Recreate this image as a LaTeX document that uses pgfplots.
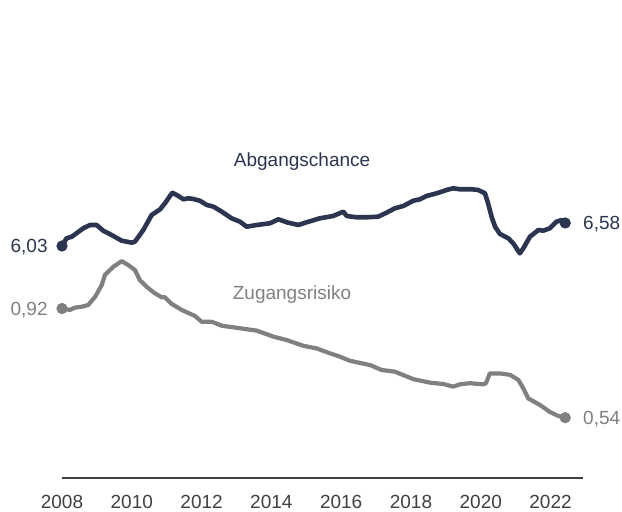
\documentclass[border=0pt]{standalone}
\usepackage{fontspec}
\setmainfont{Liberation Sans}
\usepackage{pgfplots}
\pgfplotsset{compat=1.18}
\definecolor{navy}{HTML}{2B3550}
\definecolor{grayline}{HTML}{808080}
\definecolor{axisgray}{HTML}{404040}
\begin{document}
\fontsize{9.5}{11}\selectfont
\begin{tikzpicture}
\useasboundingbox (0,0) rectangle (311pt,255.5pt);
\begin{axis}[at={(31pt,16.5pt)}, anchor=south west,
  width=260.5pt, height=164pt, scale only axis,
  xmin=2008, xmax=2022.93, ymin=0.483, ymax=8.325,
  axis x line*=bottom, axis y line=none,
  x axis line style={axisgray, line width=0.6pt},
  xtick={2008,2010,2012,2014,2016,2018,2020,2022},
  xticklabels={2008,2010,2012,2014,2016,2018,2020,2022},
  xticklabel style={anchor=base, yshift=-15pt, text=axisgray, font=\fontsize{9.5}{11}\selectfont},
  major tick length=0pt, clip=false]
\addplot[navy, line width=2.3pt, line join=round, line cap=round] coordinates {
(2008.00,6.030)(2008.13,6.214)(2008.28,6.252)(2008.61,6.453)(2008.80,6.532)(2008.99,6.532)
(2009.18,6.396)(2009.42,6.293)(2009.71,6.157)(2010.00,6.109)(2010.09,6.133)(2010.33,6.413)
(2010.57,6.771)(2010.81,6.907)(2010.95,7.051)(2011.16,7.304)(2011.29,7.249)(2011.48,7.147)
(2011.62,7.170)(2011.76,7.154)(2011.95,7.113)(2012.15,7.010)(2012.34,6.970)(2012.58,6.850)
(2012.86,6.692)(2013.10,6.611)(2013.29,6.491)(2013.58,6.532)(2013.96,6.573)(2014.20,6.668)
(2014.44,6.597)(2014.77,6.532)(2015.01,6.597)(2015.39,6.692)(2015.77,6.747)(2016.06,6.850)
(2016.16,6.747)(2016.44,6.716)(2016.73,6.716)(2017.06,6.731)(2017.30,6.826)(2017.54,6.931)
(2017.78,6.986)(2018.07,7.113)(2018.26,7.147)(2018.45,7.226)(2018.74,7.290)(2019.02,7.369)
(2019.21,7.410)(2019.40,7.386)(2019.74,7.386)(2019.93,7.369)(2020.12,7.290)(2020.21,7.051)
(2020.31,6.731)(2020.41,6.491)(2020.55,6.317)(2020.79,6.214)(2020.93,6.095)(2021.12,5.855)
(2021.22,5.975)(2021.41,6.252)(2021.65,6.413)(2021.79,6.396)(2021.98,6.453)(2022.17,6.611)
(2022.32,6.652)(2022.42,6.580)};
\addplot[only marks, mark=*, mark size=2.6pt, navy] coordinates {(2008.00,6.030)(2022.42,6.580)};
\node[anchor=base east, inner sep=0pt, text=navy] at ([xshift=-7pt,yshift=-3.4pt]axis cs:2008,6.03) {6,03};
\node[anchor=base west, inner sep=0pt, text=navy] at ([xshift=8.8pt,yshift=-3.4pt]axis cs:2022.42,6.58) {6,58};
\node[anchor=base, inner sep=0pt, text=navy] at (axis cs:2014.88,7.926) {Abgangschance};
\end{axis}
\begin{axis}[at={(31pt,16.5pt)}, anchor=south west,
  width=260.5pt, height=164pt, scale only axis,
  xmin=2008, xmax=2022.93, ymin=0.330, ymax=1.4716,
  hide axis, clip=false]
\addplot[grayline, line width=2.1pt, line join=round, line cap=round] coordinates {
(2008.00,0.920)(2008.23,0.915)(2008.37,0.923)(2008.56,0.926)(2008.75,0.932)(2008.95,0.961)
(2009.14,1.002)(2009.23,1.037)(2009.47,1.065)(2009.71,1.085)(2009.90,1.071)(2010.09,1.054)
(2010.23,1.019)(2010.42,0.996)(2010.66,0.973)(2010.86,0.959)(2010.95,0.959)(2011.14,0.936)
(2011.43,0.915)(2011.81,0.894)(2012.00,0.874)(2012.29,0.874)(2012.58,0.860)(2013.11,0.851)
(2013.58,0.843)(2014.06,0.822)(2014.44,0.810)(2014.92,0.790)(2015.30,0.781)(2015.68,0.764)
(2015.97,0.752)(2016.25,0.738)(2016.83,0.723)(2017.16,0.706)(2017.54,0.700)(2018.07,0.674)
(2018.54,0.662)(2018.93,0.657)(2019.21,0.648)(2019.40,0.656)(2019.69,0.660)(2020.07,0.656)
(2020.15,0.660)(2020.26,0.694)(2020.55,0.694)(2020.84,0.689)(2021.08,0.671)(2021.22,0.642)
(2021.36,0.607)(2021.70,0.584)(2021.98,0.560)(2022.22,0.546)(2022.42,0.540)};
\addplot[only marks, mark=*, mark size=2.6pt, grayline] coordinates {(2008.00,0.920)(2022.42,0.540)};
\node[anchor=base east, inner sep=0pt, text=grayline] at ([xshift=-7pt,yshift=-3.4pt]axis cs:2008,0.92) {0,92};
\node[anchor=base west, inner sep=0pt, text=grayline] at ([xshift=8.8pt,yshift=-3.4pt]axis cs:2022.42,0.54) {0,54};
\node[anchor=base, inner sep=0pt, text=grayline] at (axis cs:2014.59,0.953) {Zugangsrisiko};
\end{axis}
\end{tikzpicture}
\end{document}
